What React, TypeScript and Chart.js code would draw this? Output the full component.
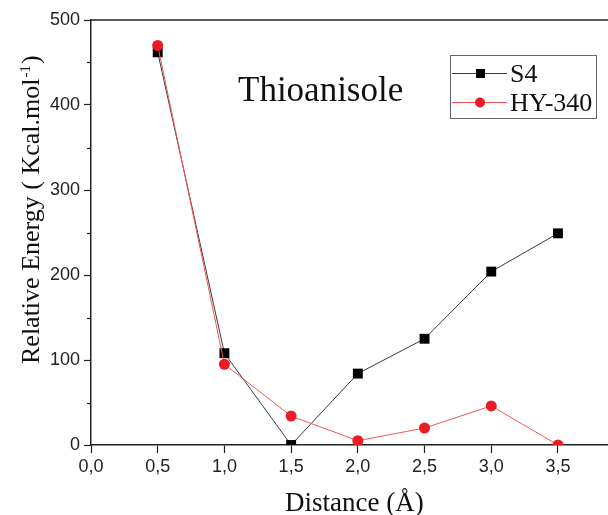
import React, { useEffect, useRef } from "react";
import { Chart, registerables } from "chart.js";

Chart.register(...registerables);

// Scan distances (Å) and relative energies (kcal/mol) for each catalyst
const distances = [0.5, 1.0, 1.5, 2.0, 2.5, 3.0, 3.5];
const s4Energy = [462, 108, 0, 84, 125, 204, 249];
const hy340Energy = [470, 95, 34, 5, 20, 46, 0];

const yMinorTicks = [50, 150, 250, 350, 450];

const chartTitle = "Thioanisole";
const xTitle = "Distance (Å)";
const yTitleMain = "Relative Energy ( Kcal.mol";
const yTitleSup = "-1";
const yTitleEnd = ")";

const seriesNames = ["S4", "HY-340"];

const SERIF = "'Liberation Serif', 'Times New Roman', serif";
const SANS = "'Liberation Sans', Arial, sans-serif";
const AXIS = "#222";

const S4_LINE = "#3a3a3a";
const S4_POINT = "#000000";
const HY_LINE = "#f25555";
const HY_POINT = "#ec1c24";

const decorations = {
  id: "decorations",
  afterDraw(chart: any) {
    const { ctx, chartArea, scales } = chart;
    const y = scales.y;
    ctx.save();

    // top frame line
    ctx.strokeStyle = AXIS;
    ctx.lineWidth = 1.5;
    ctx.beginPath();
    ctx.moveTo(chartArea.left, chartArea.top);
    ctx.lineTo(chartArea.right, chartArea.top);
    ctx.stroke();

    // minor ticks on the y axis
    ctx.lineWidth = 1.2;
    for (const v of yMinorTicks) {
      const py = Math.round(y.getPixelForValue(v)) + 0.5;
      ctx.beginPath();
      ctx.moveTo(chartArea.left - 4, py);
      ctx.lineTo(chartArea.left, py);
      ctx.stroke();
    }

    // chart title
    ctx.fillStyle = "#111";
    ctx.font = `35px ${SERIF}`;
    ctx.textAlign = "left";
    ctx.textBaseline = "alphabetic";
    ctx.fillText(chartTitle, 238, 101);

    // x axis title
    ctx.font = `27px ${SERIF}`;
    ctx.fillText(xTitle, 285, 511);

    // y axis title (rotated, with superscript)
    ctx.save();
    ctx.translate(39, 364);
    ctx.rotate(-Math.PI / 2);
    ctx.font = `26px ${SERIF}`;
    ctx.fillText(yTitleMain, 0, 0);
    const mainW = ctx.measureText(yTitleMain).width;
    ctx.font = `15px ${SERIF}`;
    ctx.fillText(yTitleSup, mainW + 1, -9);
    const supW = ctx.measureText(yTitleSup).width;
    ctx.font = `26px ${SERIF}`;
    ctx.fillText(yTitleEnd, mainW + supW + 2, 0);
    ctx.restore();

    // legend box
    ctx.strokeStyle = "#666";
    ctx.lineWidth = 1;
    ctx.strokeRect(450.5, 55.5, 146, 63);

    const rows = [
      { y: 73, line: S4_LINE, point: S4_POINT, shape: "rect", label: seriesNames[0] },
      { y: 102, line: HY_LINE, point: HY_POINT, shape: "circle", label: seriesNames[1] },
    ];
    for (const r of rows) {
      ctx.strokeStyle = r.line;
      ctx.lineWidth = 1;
      ctx.beginPath();
      ctx.moveTo(452, r.y + 0.5);
      ctx.lineTo(507, r.y + 0.5);
      ctx.stroke();
      ctx.fillStyle = r.point;
      if (r.shape === "rect") {
        ctx.fillRect(476, r.y - 4, 9, 9);
      } else {
        ctx.beginPath();
        ctx.arc(480, r.y + 0.5, 5, 0, Math.PI * 2);
        ctx.fill();
      }
      ctx.fillStyle = "#111";
      ctx.font = `26px ${SERIF}`;
      ctx.fillText(r.label, 510, r.y + 8.5);
    }

    ctx.restore();
  },
};

export default function App() {
  const canvasRef = useRef<HTMLCanvasElement | null>(null);

  useEffect(() => {
    const canvas = canvasRef.current;
    if (!canvas) return;

    const chart = new Chart(canvas, {
      type: "line",
      data: {
        datasets: [
          {
            label: seriesNames[1],
            data: distances.map((x, i) => ({ x, y: hy340Energy[i] })),
            borderColor: HY_LINE,
            borderWidth: 1,
            pointStyle: "circle",
            pointRadius: 5.5,
            pointBackgroundColor: HY_POINT,
            pointBorderWidth: 0,
            pointBorderColor: HY_POINT,
            order: 0,
          },
          {
            label: seriesNames[0],
            data: distances.map((x, i) => ({ x, y: s4Energy[i] })),
            borderColor: S4_LINE,
            borderWidth: 1,
            pointStyle: "rect",
            pointRadius: 7,
            pointBackgroundColor: S4_POINT,
            pointBorderWidth: 0,
            pointBorderColor: S4_POINT,
            order: 1,
          },
        ],
      },
      options: {
        responsive: false,
        animation: false,
        layout: { autoPadding: false, padding: { top: 20, right: 0, left: 0, bottom: 0 } },
        plugins: {
          legend: { display: false },
          tooltip: { enabled: false },
          title: { display: false },
        },
        scales: {
          x: {
            type: "linear",
            min: 0,
            max: 3.875,
            afterFit: (s: any) => {
              s.height = 70;
              s.paddingLeft = 0;
              s.paddingRight = 0;
            },
            ticks: {
              stepSize: 0.5,
              includeBounds: false,
              autoSkip: false,
              maxRotation: 0,
              padding: 3,
              color: AXIS,
              font: { family: SANS, size: 18 },
              callback: (v: any) => Number(v).toFixed(1).replace(".", ","),
            },
            grid: {
              drawOnChartArea: false,
              drawTicks: true,
              tickLength: 8,
              tickColor: AXIS,
              tickWidth: 1.2,
            },
            border: { color: AXIS, width: 1.5 },
          },
          y: {
            type: "linear",
            min: 0,
            max: 500,
            afterFit: (s: any) => {
              s.width = 91;
              s.paddingTop = 0;
              s.paddingBottom = 0;
            },
            ticks: {
              stepSize: 100,
              padding: 4,
              color: AXIS,
              font: { family: SANS, size: 18 },
            },
            grid: {
              drawOnChartArea: false,
              drawTicks: true,
              tickLength: 7,
              tickColor: AXIS,
              tickWidth: 1.2,
            },
            border: { color: AXIS, width: 1.5 },
          },
        },
      },
      plugins: [decorations],
    });

    return () => chart.destroy();
  }, []);

  return (
    <div style={{ position: "absolute", left: 0, top: 0, width: 608, height: 515, background: "#fff" }}>
      <canvas ref={canvasRef} width={608} height={515} style={{ display: "block" }} />
    </div>
  );
}
